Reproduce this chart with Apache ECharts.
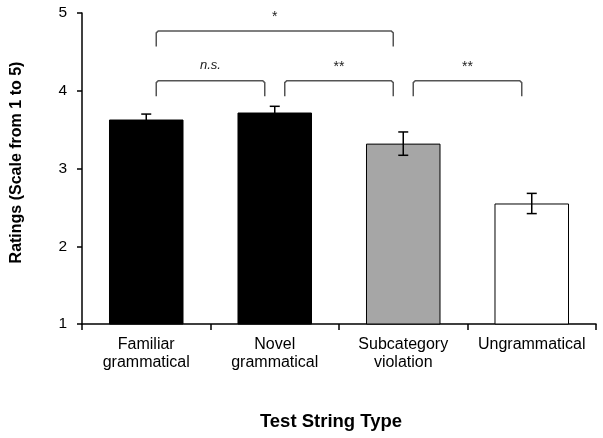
<!DOCTYPE html>
<html>
<head>
<meta charset="utf-8">
<script src="https://cdn.jsdelivr.net/npm/echarts@6/dist/echarts.min.js"></script>
<style>
  html, body { margin: 0; padding: 0; background: #fff; }
  #chart { width: 603px; height: 438px; }
</style>
</head>
<body>
<div id="chart"></div>
<script>
// 数据
const categories = ["Familiar\ngrammatical", "Novel\ngrammatical", "Subcategory\nviolation", "Ungrammatical"];
const means = [3.63, 3.72, 3.32, 2.55];
const errors = [0.07, 0.08, 0.15, 0.13];
const barColors = ["#000000", "#000000", "#a6a6a6", "#ffffff"];
const yTicks = [1, 2, 3, 4, 5];
// 显著性比较: [起点类别, 终点类别, 横线高度, 竖线底部, 标记]
const comparisons = [
  [0, 2, 4.77, 4.57, "*"],
  [0, 1, 4.13, 3.93, "n.s."],
  [1, 2, 4.13, 3.93, "**"],
  [2, 3, 4.13, 3.93, "**"]
];

const font = "'Liberation Sans', Arial, Helvetica, sans-serif";
const chart = echarts.init(document.getElementById("chart"));

const option = {
  animation: false,
  grid: { left: 82, right: 7, top: 13, bottom: 114 },
  xAxis: {
    type: "category",
    data: categories,
    name: "Test String Type",
    nameLocation: "middle",
    nameGap: 88,
    nameTextStyle: {
      fontFamily: font,
      fontSize: 18.5,
      fontWeight: "bold",
      color: "#000",
      padding: [0, 16, 0, 0]
    },
    axisLine: { lineStyle: { color: "#000", width: 1.5 } },
    axisTick: { show: true, length: 6, lineStyle: { color: "#000", width: 1.5 } },
    axisLabel: {
      interval: 0,
      margin: 11,
      fontFamily: font,
      fontSize: 16,
      lineHeight: 18.5,
      color: "#000"
    }
  },
  yAxis: {
    type: "value",
    min: yTicks[0],
    max: yTicks[yTicks.length - 1],
    interval: 1,
    name: "Ratings (Scale from 1 to 5)",
    nameLocation: "middle",
    nameGap: 57,
    nameTextStyle: {
      fontFamily: font,
      fontSize: 16,
      fontWeight: "bold",
      color: "#000",
      padding: [0, 0, 0, 12]
    },
    axisLine: { show: true, lineStyle: { color: "#000", width: 1.5 } },
    axisTick: { show: true, length: 5, lineStyle: { color: "#000", width: 1.5 } },
    axisLabel: {
      margin: 15,
      fontFamily: font,
      fontSize: 15.5,
      color: "#000"
    },
    splitLine: { show: false }
  },
  series: [
    {
      type: "bar",
      barCategoryGap: "42%",
      data: means.map((v, i) => ({
        value: v,
        itemStyle: { color: barColors[i], borderColor: "#000", borderWidth: 1 }
      })),
      z: 2
    },
    {
      // 误差线
      type: "custom",
      data: means.map((v, i) => [i, v - errors[i], v + errors[i]]),
      renderItem: function (params, api) {
        const lo = api.coord([api.value(0), api.value(1)]);
        const hi = api.coord([api.value(0), api.value(2)]);
        const cap = 5;
        const st = { stroke: "#000", lineWidth: 1.5 };
        return {
          type: "group",
          children: [
            { type: "line", shape: { x1: hi[0], y1: hi[1], x2: lo[0], y2: lo[1] }, style: st },
            { type: "line", shape: { x1: hi[0] - cap, y1: hi[1], x2: hi[0] + cap, y2: hi[1] }, style: st },
            { type: "line", shape: { x1: lo[0] - cap, y1: lo[1], x2: lo[0] + cap, y2: lo[1] }, style: st }
          ]
        };
      },
      z: 3
    },
    {
      // 显著性括号
      type: "custom",
      data: comparisons.map(c => [c[0], c[1], c[2], c[3]]),
      renderItem: function (params, api) {
        const c = comparisons[params.dataIndex];
        const a = api.coord([api.value(0), api.value(2)]);
        const b = api.coord([api.value(1), api.value(2)]);
        const drop = api.coord([api.value(0), api.value(3)]);
        const off = 10;
        const x1 = a[0] + off, x2 = b[0] - off, y = a[1], yd = drop[1];
        const isNs = c[4] === "n.s.";
        return {
          type: "group",
          children: [
            {
              type: "polyline",
              shape: { points: [[x1, yd], [x1, y + 2], [x1 + 2, y], [x2 - 2, y], [x2, y + 2], [x2, yd]] },
              style: { stroke: "#555", lineWidth: 1.5, fill: null }
            },
            {
              type: "text",
              x: (x1 + x2) / 2,
              y: isNs ? y - 9 : y - 7,
              style: {
                text: c[4],
                fontFamily: font,
                fontSize: isNs ? 13 : 14,
                fontStyle: isNs ? "italic" : "normal",
                fill: "#222",
                align: "center",
                verticalAlign: "bottom"
              }
            }
          ]
        };
      },
      z: 4
    }
  ]
};

chart.setOption(option);
</script>
</body>
</html>
